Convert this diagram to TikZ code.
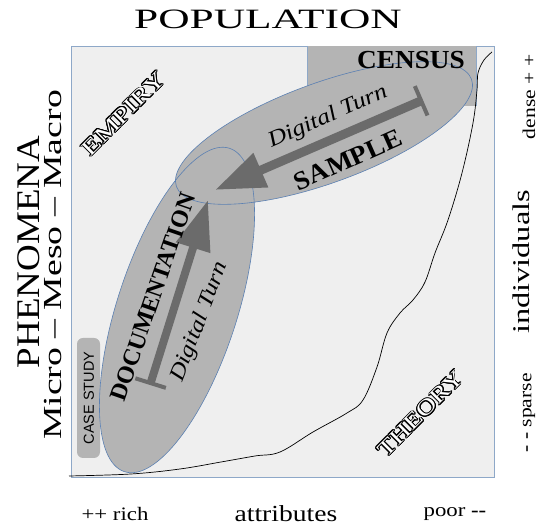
\documentclass[tikz,border=0pt]{standalone}
\usepackage{fontspec}
\setmainfont{Liberation Serif}
\newfontfamily\sansf{Liberation Sans}
\usepackage{graphicx}
\usepackage{contour}
\contourlength{0.8pt}
\usetikzlibrary{arrows.meta}
\definecolor{bgc}{HTML}{EFEFEF}
\definecolor{ellg}{HTML}{B4B4B4}
\definecolor{edgec}{HTML}{5B80B2}
\definecolor{framec}{HTML}{8EA8C8}
\definecolor{arrc}{HTML}{6B6B6B}
\newcommand{\fsz}[1]{\fontsize{#1}{#1}\selectfont}
\newcommand{\hollow}[1]{\contour{black}{\textcolor{white}{#1}}}
\tikzset{
  lbl/.style={inner sep=0pt, text=black},
  bigarrow/.style={draw=arrc, fill=arrc, line width=9pt, {Bar[width=32pt,line width'=4pt]}-{Triangle[length=50pt,width=35pt]}},
  docarrow/.style={draw=arrc, fill=arrc, line width=8pt, {Bar[width=32pt,line width'=4pt]}-{Triangle[length=50pt,width=34pt]}},
  outl/.style={draw=edgec, line width=0.6pt},
}
\begin{document}
\begin{tikzpicture}[x=1pt,y=1pt]
\useasboundingbox (0,0) rectangle (539,526);
\fill[white] (0,0) rectangle (539,526);
% frame
\draw[draw=framec, fill=bgc, line width=0.8pt] (71,49) rectangle (494,480);
% census block
\fill[ellg] (307,480) rectangle (476,420);
\draw[framec, line width=0.8pt] (307,480) -- (307,420) (476,420) -- (476,480);
% case study box
\fill[ellg, rounded corners=6pt] (77,68) rectangle (100,188);
% ellipses
\fill[ellg, rotate around={72:(177,216)}] (177,216) ellipse [x radius=170, y radius=60];
\fill[ellg, rotate around={20:(324,393)}] (324,393) ellipse [x radius=157, y radius=50];
\draw[outl, rotate around={72:(177,216)}] (177,216) ellipse [x radius=170, y radius=60];
\draw[outl, rotate around={20:(324,393)}] (324,393) ellipse [x radius=157, y radius=50];
% curve
\draw[black, line width=0.7pt] plot[smooth, tension=0.6] coordinates {(69,50) (131,52) (180,57) (221,64) (255,70) (280,74) (313,94) (347,113) (363,126) (377,159) (387,193) (400,213) (413,226) (425,244) (435,273) (448,306) (462,353) (473,403) (477,436) (478,453) (484,466) (492,474)};
% arrows
\coordinate (sTail) at (423,426);
\coordinate (sHead) at (215,336);
\draw[bigarrow] (sTail) -- (sHead);
\coordinate (dTail) at (150,141);
\coordinate (dHead) at (208,326);
\draw[docarrow] (dTail) -- (dHead);
% texts
\node[lbl, anchor=base] (pop) at (268,497) {\fsz{28}\scalebox{1.55}[1]{POPULATION}};
\node[lbl, rotate=90] (phen) at (29,274) {\fsz{33}\scalebox{1.12}[1]{PHENOMENA}};
\node[lbl, rotate=90] (mmm) at (53,261) {\fsz{26}\scalebox{1.45}[1]{Micro -- Meso -- Macro}};
\node[lbl, rotate=90] (indiv) at (521,264) {\fsz{24}\scalebox{1.35}[1]{individuals}};
\node[lbl, rotate=90] (dense) at (529,429) {\fsz{18}\scalebox{1.2}[1]{dense + +}};
\node[lbl, rotate=90] (sparse) at (529,113) {\fsz{18}\scalebox{1.2}[1]{\textbf{- -} sparse}};
\node[lbl] (rich) at (115,12) {\fsz{19}\scalebox{1.2}[1]{++ rich}};
\node[lbl] (attr) at (286,12) {\fsz{23}\scalebox{1.2}[1]{attributes}};
\node[lbl] (poor) at (455,12) {\fsz{19}\scalebox{1.2}[1]{poor \textbf{-{}-}}};
\node[lbl, rotate=45] (emp) at (124,412) {\fsz{22}\scalebox{1.32}[1]{\hollow{EMPIRY}}};
\node[lbl, rotate=45] (theo) at (421,112) {\fsz{22}\scalebox{1.27}[1]{\hollow{THEORY}}};
\node[lbl] (census) at (411,466) {\fsz{26}\scalebox{1.05}[1]{\textbf{CENSUS}}};
\node[lbl, rotate=24] (dts) at (328,409) {\fsz{22}\scalebox{1.17}[1]{\textit{Digital Turn}}};
\node[lbl, rotate=24] (samp) at (348,366) {\fsz{26}\scalebox{1.06}[1]{\textbf{SAMPLE}}};
\node[lbl, rotate=71] (docu) at (153,229) {\fsz{24}\textbf{DOCUMENTATION}};
\node[lbl, rotate=69] (dtd) at (200,204) {\fsz{22}\scalebox{1.15}[1]{\textit{Digital Turn}}};
\node[lbl, rotate=90] (case) at (89,128) {\sansf\fsz{14.5}CASE STUDY};
\end{tikzpicture}
\end{document}
